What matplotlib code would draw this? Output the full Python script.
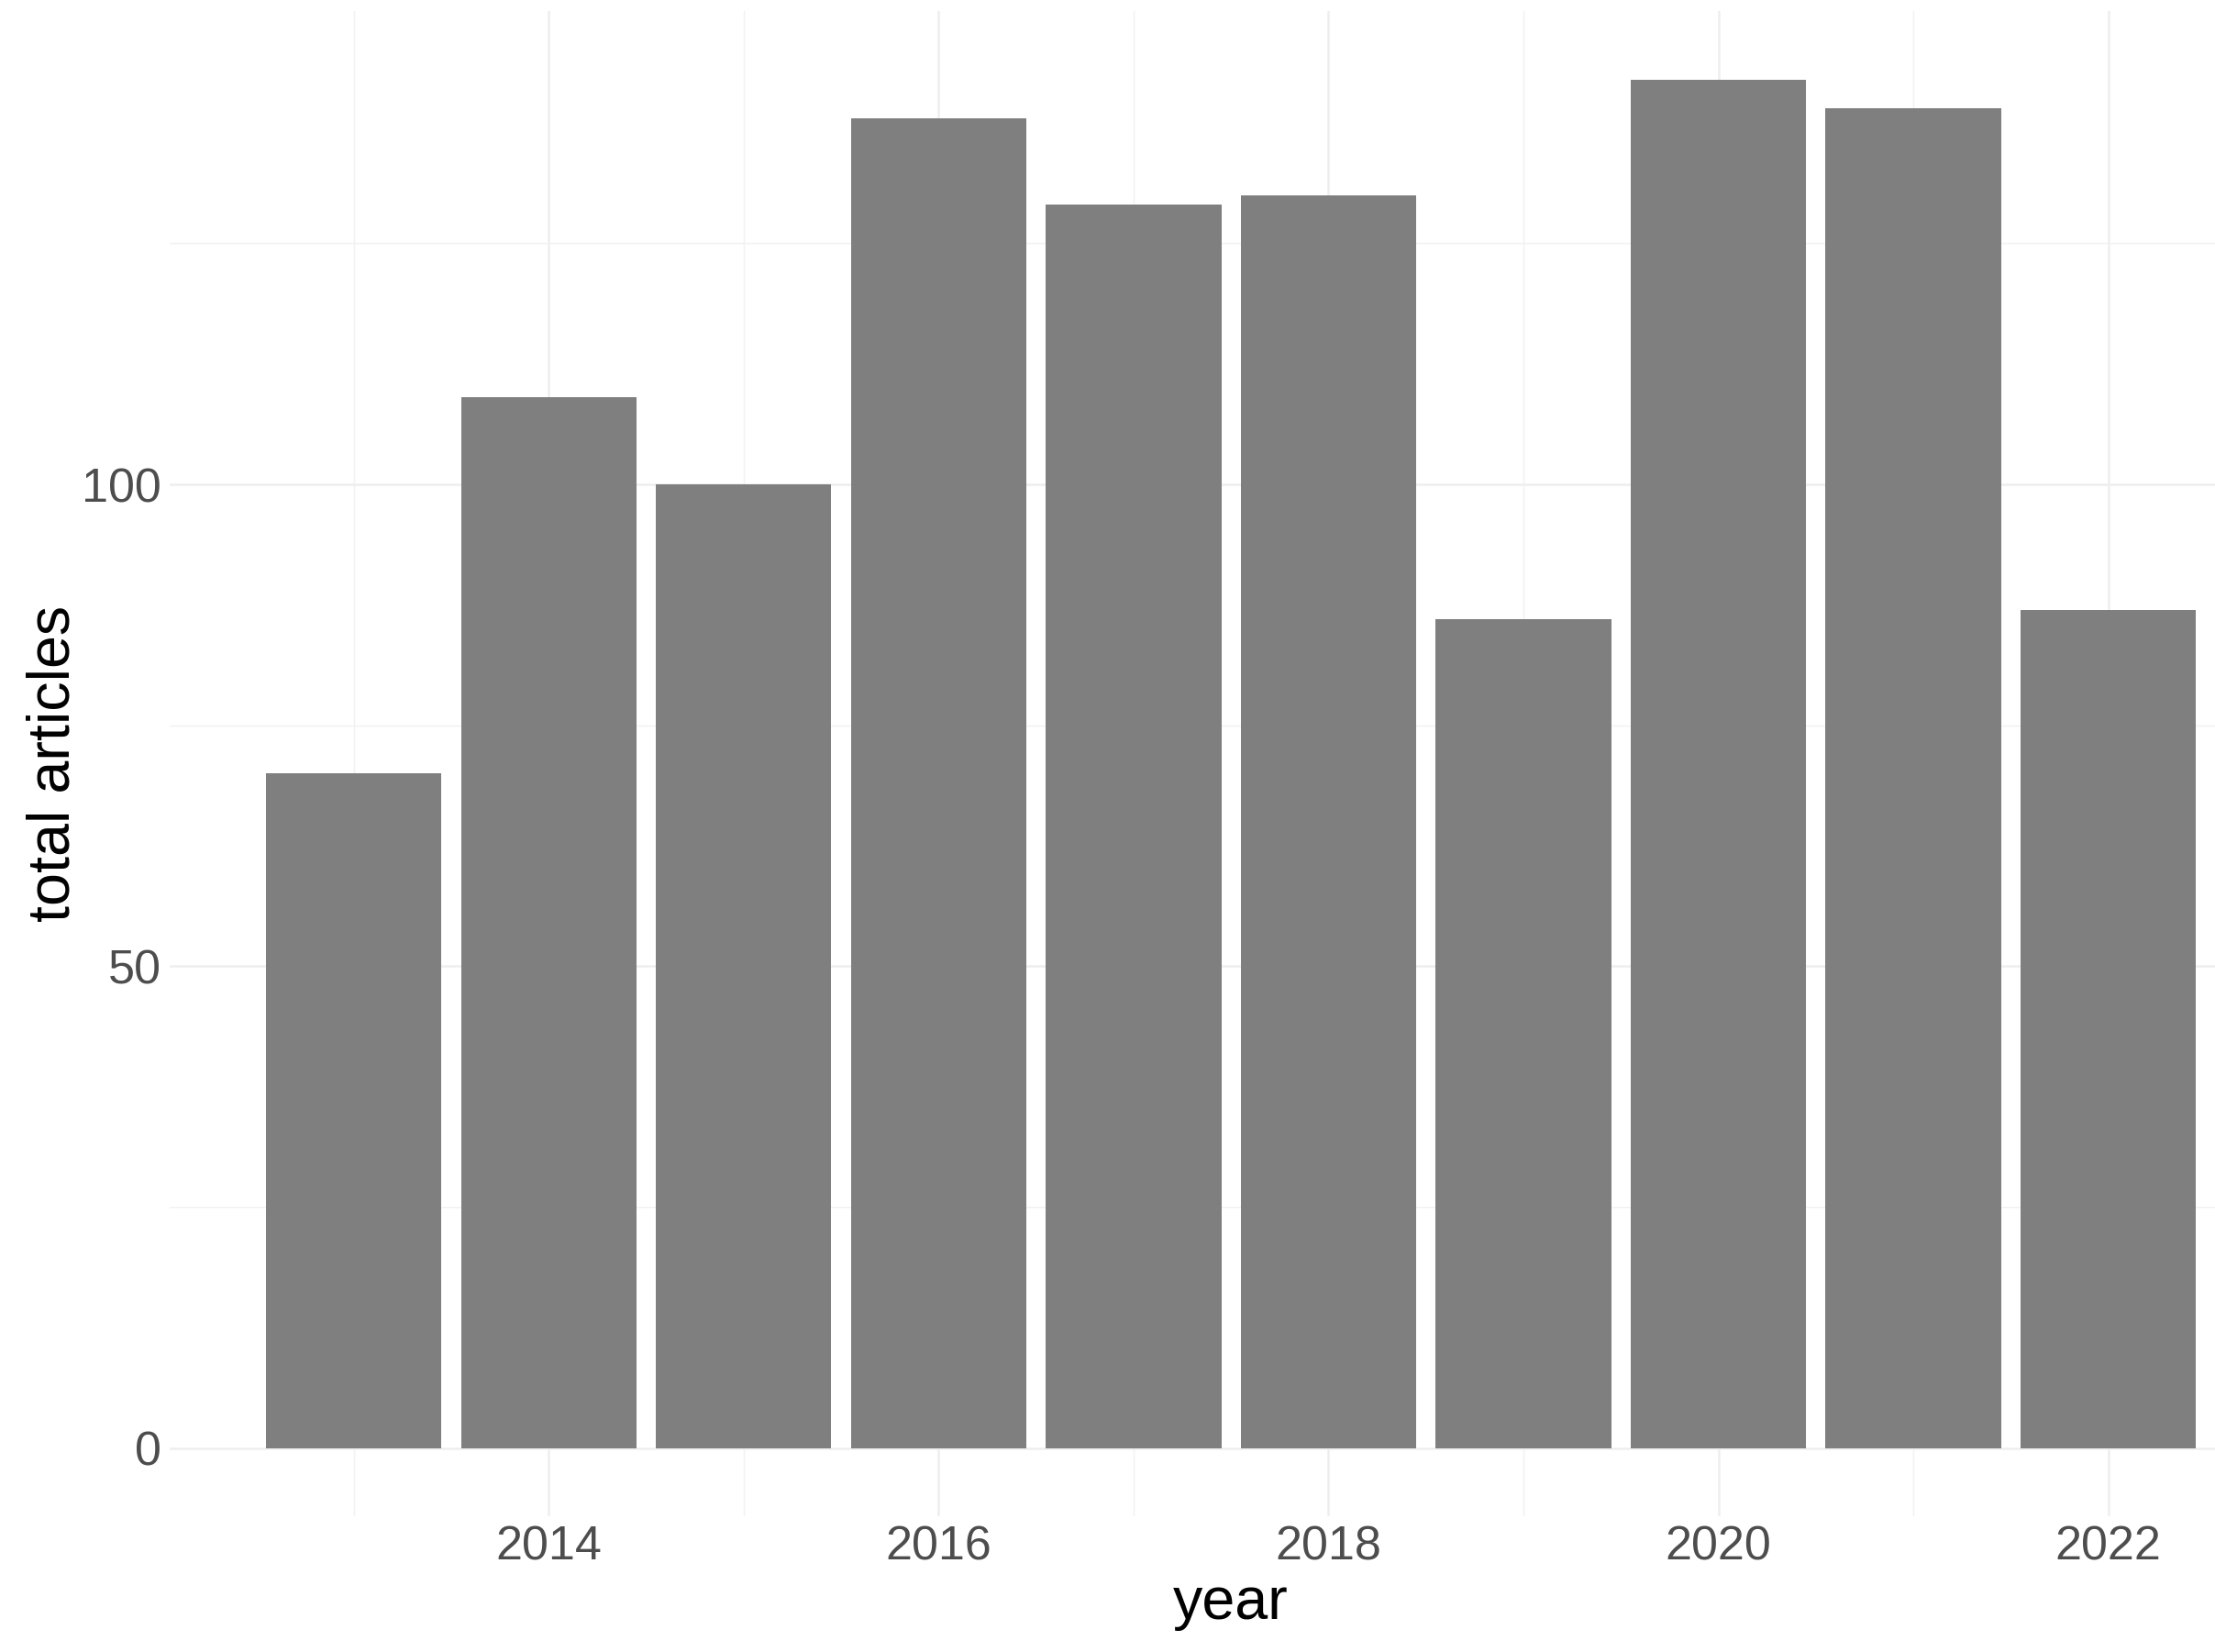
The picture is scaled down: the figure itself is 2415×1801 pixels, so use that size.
import matplotlib
matplotlib.use("Agg")
import matplotlib.pyplot as plt
import numpy as np

years = [2013, 2014, 2015, 2016, 2017, 2018, 2019, 2020, 2021, 2022]
total_articles = [70, 109, 100, 138, 129, 130, 86, 142, 139, 87]

plt.rcParams["font.family"] = ["Liberation Sans", "DejaVu Sans"]

fig = plt.figure(figsize=(2415 / 300, 1801 / 300), dpi=300)
# panel runs past the right edge, as in the reference (cropped ggplot)
ax = fig.add_axes([0.0765, 0.0821, 0.9585, 0.9111])

ax.bar(years, total_articles, width=0.9, color="#7F7F7F", zorder=2)

ax.set_xlim(2012.055, 2022.945)
ax.set_ylim(-7.1, 149.1)

ax.set_xticks([2014, 2016, 2018, 2020, 2022])
ax.set_xticks([2013, 2015, 2017, 2019, 2021], minor=True)
ax.set_yticks([0, 50, 100])
ax.set_yticks([25, 75, 125], minor=True)

ax.grid(which="major", color="#EEEEEE", linewidth=0.6, zorder=0)
ax.grid(which="minor", color="#F2F2F2", linewidth=0.35, zorder=0)
ax.set_axisbelow(True)

for s in ax.spines.values():
    s.set_visible(False)
ax.tick_params(which="both", length=0)
ax.tick_params(axis="both", labelsize=12.5, labelcolor="#4D4D4D", pad=2.2)

ax.set_xlabel("year", fontsize=15.5, color="black", labelpad=1.5)
ax.set_ylabel("total articles", fontsize=15.5, color="black", labelpad=0)

fig.savefig("out.png", dpi=300, facecolor="white")
